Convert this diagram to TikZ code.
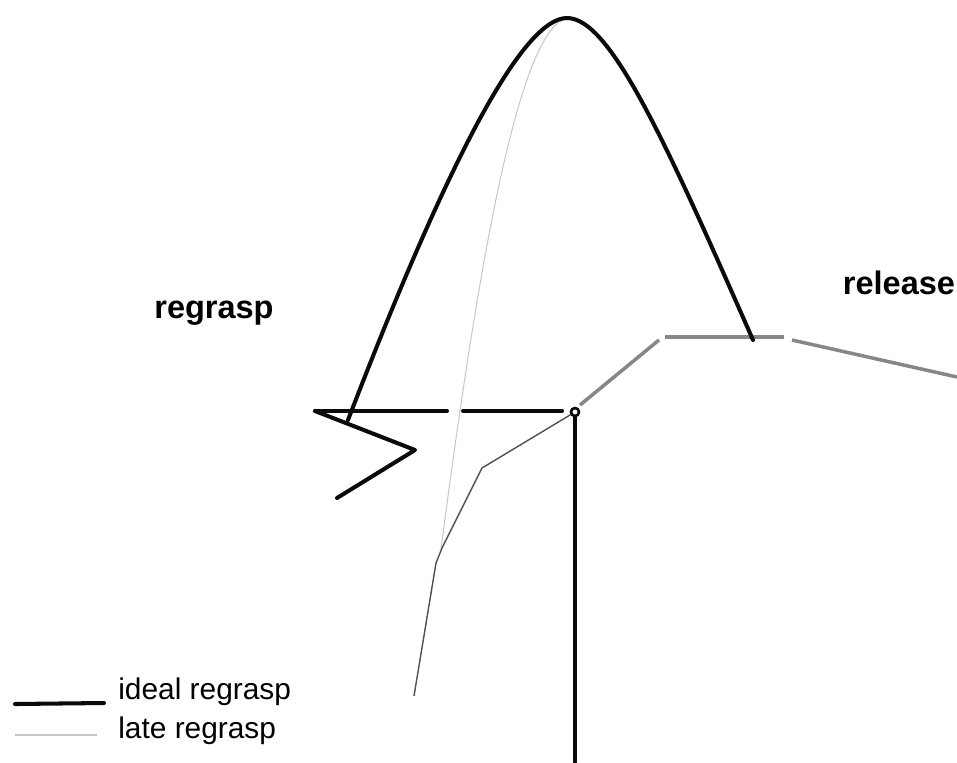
\documentclass[tikz,border=0pt]{standalone}
\usepackage{fontspec}
\setmainfont{Liberation Sans}
\usepackage{tikz}
\usetikzlibrary{positioning,calc}
\definecolor{gripblack}{RGB}{10,10,10}
\definecolor{gripgray}{RGB}{135,135,135}
\definecolor{gripdark}{RGB}{80,80,80}
\definecolor{griplight}{RGB}{200,200,200}
\tikzset{
  ideal/.style={gripblack,line width=2.3pt,line cap=round,line join=round},
  late/.style={griplight,line width=0.6pt},
  path/.style={gripdark,line width=0.8pt,line join=round},
  rel/.style={gripgray,line width=2pt},
  phase/.style={font=\bfseries\fontsize{18.5}{20}\selectfont,inner sep=0pt},
  legtext/.style={font=\fontsize{17}{19}\selectfont,inner sep=0pt,anchor=west}
}
\begin{document}
\begin{tikzpicture}[x=0.02cm,y=-0.02cm]
    \useasboundingbox (0,0) rectangle (957,762);
    \coordinate (grasp) at (575,412);
    \coordinate (peak) at (567,18);
    % phase labels
    \node[phase] (regrasplabel) at (214,313) {regrasp};
    \node[phase] (releaselabel) at (899,283) {release};
    % release path
    \draw[rel] (580,405) -- (659,340);
    \draw[rel] (665,337) -- (784,337);
    \draw[rel] (792,340) -- (957,377);
    % late regrasp
    \draw[late] (441,549) .. controls (480,250) and (520,30) .. (peak);
    \draw[path] (grasp) -- (482,468) -- (442,548) -- (436,563) -- (414,696);
    % ideal regrasp
    \draw[ideal] (grasp) -- (575,762);
    \draw[ideal] (315,411) -- (447,411);
    \draw[ideal] (463,411) -- (562,411);
    \draw[ideal] (315,411) -- (415,450) -- (337,498);
    \draw[ideal] (348,420) .. controls (451,152) and (524,18) .. (peak)
                 .. controls (610,18) and (665,140) .. (753,340);
    \draw[gripblack,line width=1.5pt,fill=white] (grasp) circle (4);
    % legend
    \draw[ideal] (15,704) coordinate (legA) -- (104,703) coordinate (legB);
    \draw[griplight,line width=1pt] (15,735) coordinate (legC) -- (97,735) coordinate (legD);
    \node[legtext] (idealtext) at (118,692) {ideal regrasp};
    \node[legtext] (latetext) at (118,731) {late regrasp};
\end{tikzpicture}
\end{document}
